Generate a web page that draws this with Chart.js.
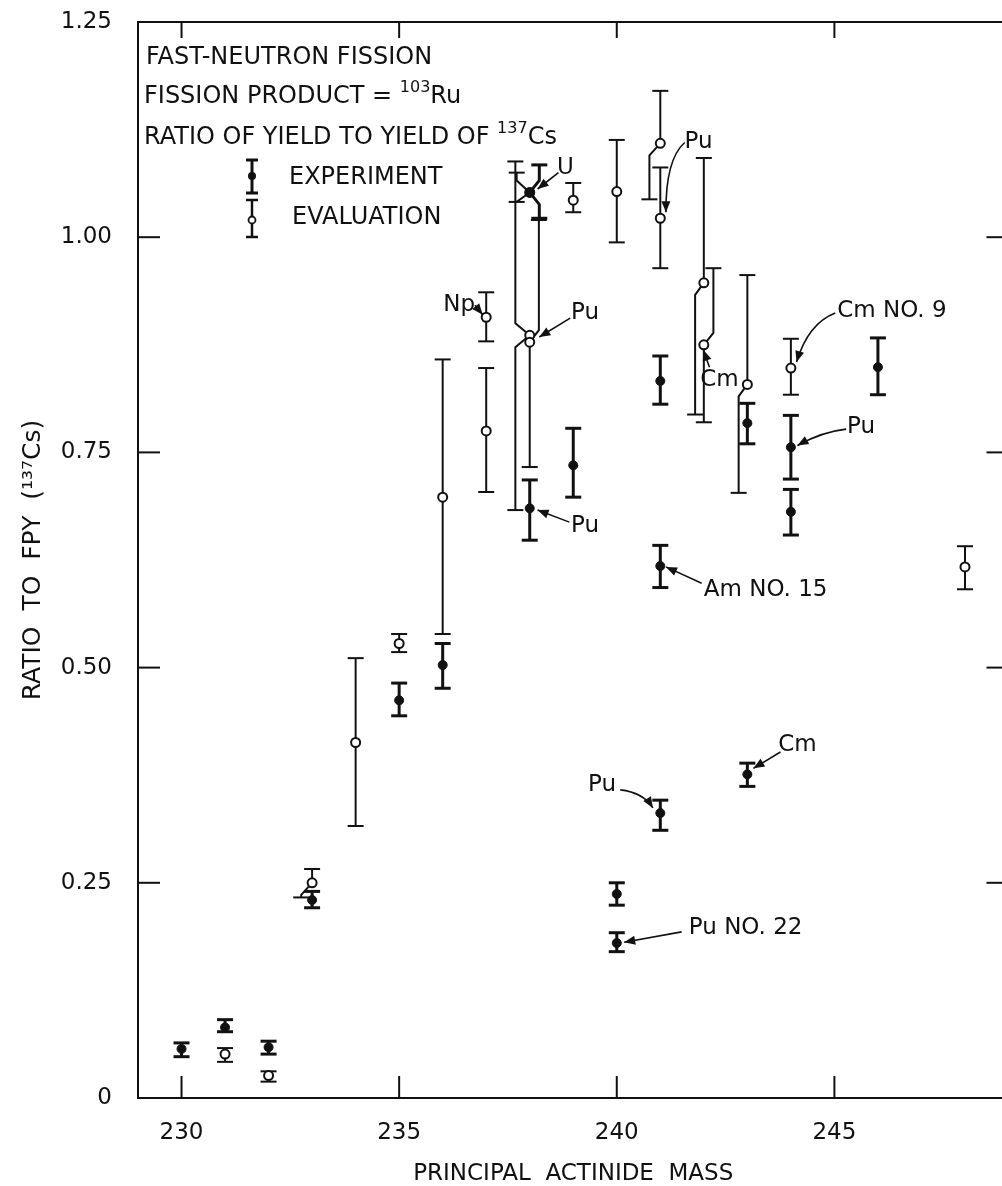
<!DOCTYPE html>
<html><head><meta charset="utf-8">
<script src="https://cdn.jsdelivr.net/npm/chart.js@4.4.1/dist/chart.umd.min.js"></script>
<style>
html,body{margin:0;padding:0;background:#fff;overflow:hidden;}
#wrap{width:1015px;height:1186px;}
</style></head><body>
<div id="wrap"><canvas id="c" width="1015" height="1186"></canvas></div>
<script>
// ---- axes ----
const xTicks = [230, 235, 240, 245];
const yTicks = [0, 0.25, 0.5, 0.75, 1.0, 1.25];
const yTickLabels = ['0', '0.25', '0.50', '0.75', '1.00', '1.25'];

// ---- EXPERIMENT (filled) ----
const expMass  = [230, 231, 232, 233, 235, 236, 238, 238, 239, 240, 240, 241, 241, 241, 243, 243, 244, 244, 246];
const expValue = [0.057, 0.082, 0.059, 0.230, 0.462, 0.503, 1.052, 0.685, 0.735, 0.237, 0.180, 0.833, 0.618, 0.331, 0.784, 0.376, 0.756, 0.681, 0.849];
const expLow   = [0.048, 0.077, 0.051, 0.221, 0.444, 0.476, 1.022, 0.648, 0.698, 0.224, 0.170, 0.806, 0.593, 0.311, 0.760, 0.362, 0.719, 0.654, 0.817];
const expHigh  = [0.064, 0.091, 0.066, 0.240, 0.482, 0.528, 1.084, 0.718, 0.778, 0.250, 0.192, 0.862, 0.642, 0.346, 0.807, 0.389, 0.793, 0.707, 0.883];
// offset of the upper / lower error-bar leg (mass units) where bars overlap
const expLegUp   = [0, 0, 0, 0, 0, 0, 0.22, 0, 0, 0, 0, 0, 0, 0, 0, 0, 0, 0, 0];
const expLegDown = [0, 0, 0, 0, 0, 0, 0.22, 0, 0, 0, 0, 0, 0, 0, 0, 0, 0, 0, 0];

// ---- EVALUATION (open) ----
const evalMass  = [231, 232, 233, 234, 235, 236, 237, 237, 238, 238, 238, 239, 240, 241, 241, 242, 242, 243, 244, 248];
const evalValue = [0.051, 0.026, 0.250, 0.413, 0.528, 0.698, 0.907, 0.775, 1.052, 0.886, 0.878, 1.043, 1.053, 1.109, 1.022, 0.947, 0.875, 0.829, 0.848, 0.617];
const evalLow   = [0.042, 0.019, 0.233, 0.316, 0.518, 0.539, 0.879, 0.704, 1.041, 0.683, 0.733, 1.029, 0.994, 1.044, 0.964, 0.794, 0.785, 0.703, 0.817, 0.591];
const evalHigh  = [0.058, 0.031, 0.266, 0.511, 0.539, 0.858, 0.936, 0.848, 1.075, 1.088, 1.020, 1.063, 1.113, 1.170, 1.081, 1.092, 0.964, 0.956, 0.882, 0.641];
const evalLegUp   = [0, 0, 0, 0, 0, 0, 0, 0, -0.30, -0.33, 0.21, 0, 0, 0, 0, 0, 0.22, 0, 0, 0];
const evalLegDown = [0, 0, -0.25, 0, 0, 0, 0, 0, -0.30, -0.33, 0, 0, 0, -0.25, 0, -0.20, 0, -0.20, 0, 0];

// ---- labels with arrows (data coordinates) ----
const noteText  = ['Np', 'U', 'Pu', 'Pu', 'Pu', 'Cm', 'Cm NO. 9', 'Pu', 'Am NO. 15', 'Pu', 'Cm', 'Pu NO. 22'];
const noteMass  = [236.38, 238.82, 239.27, 239.27, 241.88, 242.36, 246.32, 245.61, 243.42, 239.66, 244.15, 242.96];
const noteValue = [0.921, 1.080, 0.912, 0.664, 1.110, 0.834, 0.914, 0.779, 0.590, 0.364, 0.410, 0.197];
const arrowPaths = [
  [[236.74, 0.921], [236.92, 0.910]],
  [[238.66, 1.075], [238.18, 1.056]],
  [[238.93, 0.906], [238.22, 0.884]],
  [[238.91, 0.669], [238.18, 0.683]],
  [[241.56, 1.110], [241.12, 1.090], [241.13, 1.029]],
  [[242.13, 0.849], [241.99, 0.869]],
  [[245.02, 0.912], [244.40, 0.900], [244.13, 0.855]],
  [[245.27, 0.777], [244.72, 0.774], [244.15, 0.758]],
  [[241.95, 0.598], [241.13, 0.617]],
  [[240.08, 0.358], [240.61, 0.355], [240.83, 0.337]],
  [[243.76, 0.402], [243.14, 0.383]],
  [[241.49, 0.193], [240.17, 0.181]]
];

const FONT = "'DejaVu Sans'";
Chart.defaults.font.family = FONT;
Chart.defaults.color = '#111';

function drawLeg(ctx, px, py, endY, dx, dir) {
  ctx.beginPath();
  ctx.moveTo(px, py);
  const bx = px + dx;
  if (dx) {
    const d = Math.min(12, Math.abs(endY - py));
    ctx.lineTo(bx, py + dir * d);
  }
  ctx.lineTo(bx, endY);
  ctx.stroke();
  ctx.beginPath();
  ctx.moveTo(bx - 8, endY);
  ctx.lineTo(bx + 8, endY);
  ctx.stroke();
}

function drawBars(chart, xs, ys, lo, hi, su, sd, lw) {
  const ctx = chart.ctx, sx = chart.scales.x, sy = chart.scales.y;
  const unit = sx.getPixelForValue(1) - sx.getPixelForValue(0);
  ctx.save();
  ctx.strokeStyle = '#111';
  ctx.lineWidth = lw;
  for (let i = 0; i < xs.length; i++) {
    const px = sx.getPixelForValue(xs[i]);
    const py = sy.getPixelForValue(ys[i]);
    drawLeg(ctx, px, py, sy.getPixelForValue(hi[i]), su[i] * unit, -1);
    drawLeg(ctx, px, py, sy.getPixelForValue(lo[i]), sd[i] * unit, 1);
  }
  ctx.restore();
}

function richLine(ctx, parts, x, y) {
  for (const p of parts) {
    ctx.font = p.sup ? '16px ' + FONT : '24px ' + FONT;
    ctx.fillText(p.t, x, p.sup ? y - 11 : y);
    x += ctx.measureText(p.t).width;
  }
}

const figurePlugin = {
  id: 'figure',
  beforeDatasetsDraw(chart) {
    drawBars(chart, expMass, expValue, expLow, expHigh, expLegUp, expLegDown, 3);
    drawBars(chart, evalMass, evalValue, evalLow, evalHigh, evalLegUp, evalLegDown, 2);
  },
  afterDatasetsDraw(chart) {
    const ctx = chart.ctx, sx = chart.scales.x, sy = chart.scales.y;
    const a = chart.chartArea;
    ctx.save();
    // frame
    ctx.strokeStyle = '#111';
    ctx.lineWidth = 2;
    ctx.strokeRect(a.left, a.top, a.right - a.left, a.bottom - a.top);
    // inward ticks
    ctx.lineWidth = 2;
    for (const t of xTicks) {
      const px = sx.getPixelForValue(t);
      ctx.beginPath(); ctx.moveTo(px, a.bottom); ctx.lineTo(px, a.bottom - 22); ctx.stroke();
      ctx.beginPath(); ctx.moveTo(px, a.top); ctx.lineTo(px, a.top + 16); ctx.stroke();
    }
    for (const t of yTicks) {
      if (t === 0 || t === 1.25) continue;
      const py = sy.getPixelForValue(t);
      ctx.beginPath(); ctx.moveTo(a.left, py); ctx.lineTo(a.left + 22, py); ctx.stroke();
      ctx.beginPath(); ctx.moveTo(a.right, py); ctx.lineTo(a.right - 22, py); ctx.stroke();
    }
    // annotations
    ctx.fillStyle = '#111';
    ctx.font = '23px ' + FONT;
    ctx.textAlign = 'center';
    ctx.textBaseline = 'middle';
    for (let i = 0; i < noteText.length; i++) {
      ctx.fillText(noteText[i], sx.getPixelForValue(noteMass[i]), sy.getPixelForValue(noteValue[i]));
      const pts = arrowPaths[i].map(p => [sx.getPixelForValue(p[0]), sy.getPixelForValue(p[1])]);
      ctx.lineWidth = 1.6;
      ctx.beginPath();
      ctx.moveTo(pts[0][0], pts[0][1]);
      let prev = pts[0];
      if (pts.length === 3) {
        ctx.quadraticCurveTo(pts[1][0], pts[1][1], pts[2][0], pts[2][1]);
        prev = pts[1];
      } else {
        ctx.lineTo(pts[1][0], pts[1][1]);
      }
      ctx.stroke();
      const tip = pts[pts.length - 1];
      const ang = Math.atan2(tip[1] - prev[1], tip[0] - prev[0]);
      const L = 11, W = 4.5;
      const bx = tip[0] - L * Math.cos(ang), by = tip[1] - L * Math.sin(ang);
      ctx.beginPath();
      ctx.moveTo(tip[0], tip[1]);
      ctx.lineTo(bx - W * Math.sin(ang), by + W * Math.cos(ang));
      ctx.lineTo(bx + W * Math.sin(ang), by - W * Math.cos(ang));
      ctx.closePath();
      ctx.fill();
    }
    // legend block
    ctx.textAlign = 'left';
    ctx.textBaseline = 'alphabetic';
    richLine(ctx, [{t: 'FAST-NEUTRON FISSION'}], 146, 64);
    richLine(ctx, [{t: 'FISSION PRODUCT = '}, {t: '103', sup: true}, {t: 'Ru'}], 144, 103);
    richLine(ctx, [{t: 'RATIO OF YIELD TO YIELD OF '}, {t: '137', sup: true}, {t: 'Cs'}], 144, 144);
    richLine(ctx, [{t: 'EXPERIMENT'}], 289, 184);
    richLine(ctx, [{t: 'EVALUATION'}], 292, 224);
    // legend symbols
    ctx.strokeStyle = '#111';
    ctx.lineWidth = 3;
    ctx.beginPath(); ctx.moveTo(252, 160); ctx.lineTo(252, 193); ctx.stroke();
    ctx.beginPath(); ctx.moveTo(246, 160); ctx.lineTo(258, 160); ctx.moveTo(246, 193); ctx.lineTo(258, 193); ctx.stroke();
    ctx.beginPath(); ctx.arc(252, 176, 4, 0, Math.PI * 2); ctx.fill();
    ctx.lineWidth = 2.5;
    ctx.beginPath(); ctx.moveTo(252, 200); ctx.lineTo(252, 237); ctx.stroke();
    ctx.beginPath(); ctx.moveTo(246, 200); ctx.lineTo(258, 200); ctx.moveTo(246, 237); ctx.lineTo(258, 237); ctx.stroke();
    ctx.fillStyle = '#fff';
    ctx.lineWidth = 1.8;
    ctx.beginPath(); ctx.arc(252, 220, 3.5, 0, Math.PI * 2); ctx.fill(); ctx.stroke();
    ctx.restore();
  }
};

new Chart(document.getElementById('c'), {
  type: 'scatter',
  data: {
    datasets: [
      {
        label: 'EXPERIMENT',
        data: expMass.map((m, i) => ({x: m, y: expValue[i]})),
        pointRadius: 4.5,
        pointBackgroundColor: '#111',
        pointBorderColor: '#111',
        pointBorderWidth: 1
      },
      {
        label: 'EVALUATION',
        data: evalMass.map((m, i) => ({x: m, y: evalValue[i]})),
        pointRadius: 4.5,
        pointBackgroundColor: '#fff',
        pointBorderColor: '#111',
        pointBorderWidth: 2
      }
    ]
  },
  options: {
    responsive: false,
    animation: false,
    events: [],
    layout: {padding: {top: 22, right: 3, left: 0, bottom: 0}},
    plugins: {legend: {display: false}, tooltip: {enabled: false}},
    scales: {
      x: {
        type: 'linear',
        min: 229, max: 249,
        afterBuildTicks(s) { s.ticks = xTicks.map(v => ({value: v})); },
        afterFit(s) { s.height = 88; s.paddingLeft = 0; s.paddingRight = 0; },
        grid: {display: false, drawTicks: false},
        border: {display: false},
        ticks: {font: {size: 23, lineHeight: 1}, padding: 24, color: '#111', maxRotation: 0},
        title: {display: true, text: 'PRINCIPAL  ACTINIDE  MASS', font: {size: 23, lineHeight: 1}, padding: {top: 0, bottom: 0}, color: '#111'}
      },
      y: {
        type: 'linear',
        min: 0, max: 1.25,
        afterBuildTicks(s) { s.ticks = yTicks.map(v => ({value: v})); },
        afterFit(s) { s.width = 138; s.paddingTop = 0; s.paddingBottom = 0; },
        grid: {display: false, drawTicks: false},
        border: {display: false},
        ticks: {
          font: {size: 23}, padding: 26, color: '#111',
          callback(v) { const i = yTicks.indexOf(v); return i >= 0 ? yTickLabels[i] : ''; }
        },
        title: {display: true, text: 'RATIO  TO  FPY  (¹³⁷Cs)', font: {size: 25, lineHeight: 1.2}, padding: {top: 18, bottom: 0}, color: '#111'}
      }
    }
  },
  plugins: [figurePlugin]
});
</script>
</body></html>
